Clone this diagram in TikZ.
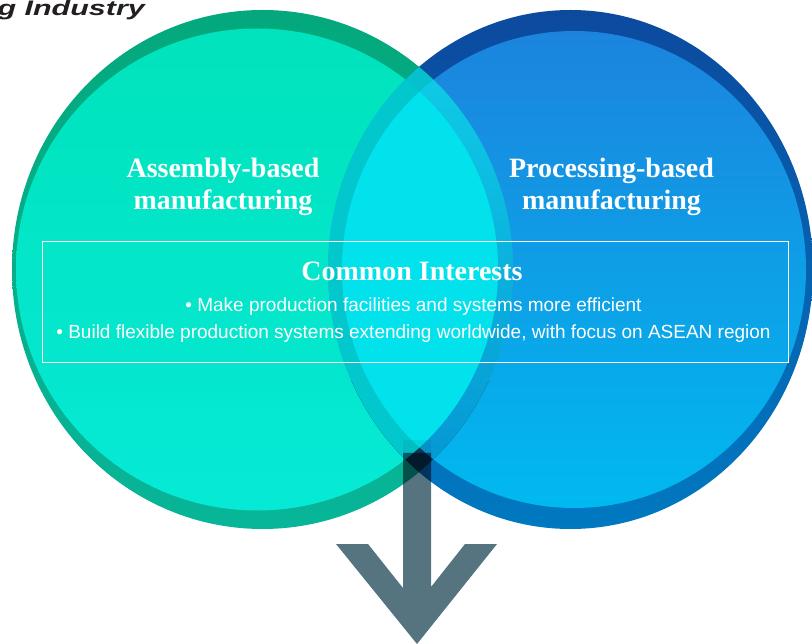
\documentclass[tikz,border=0pt]{standalone}
\usepackage{fontspec}
\setmainfont{Liberation Serif}
\newfontfamily\bodyfont{Liberation Sans}
\newfontfamily\headfont[FakeStretch=1.45]{Liberation Sans}
\definecolor{greendarktop}{HTML}{04A87C}
\definecolor{greendarkbot}{HTML}{07B598}
\definecolor{greenlighttop}{HTML}{00E3BC}
\definecolor{greenlightbot}{HTML}{06E9D6}
\definecolor{bluedarktop}{HTML}{0C4A9E}
\definecolor{bluedarkbot}{HTML}{0079C1}
\definecolor{bluelighttop}{HTML}{1C84DE}
\definecolor{bluelightbot}{HTML}{00B9EF}
\definecolor{lens}{HTML}{02E2EC}
\definecolor{leftband}{HTML}{02C8CE}
\definecolor{rightbandtop}{HTML}{10D0E8}
\definecolor{rightbandbot}{HTML}{0592D2}
\definecolor{topknot}{HTML}{06C0CE}
\definecolor{lowknot}{HTML}{0A3A5A}
\definecolor{arrowgray}{HTML}{557480}
\definecolor{headgray}{HTML}{231F20}
\usetikzlibrary{positioning}

\begin{document}
\begin{tikzpicture}[x=1pt,y=-1pt]
\tikzstyle{gout}=[x radius=250.5pt,y radius=259.5pt]
\tikzstyle{gin}=[x radius=241pt,y radius=241pt]
\tikzstyle{bout}=[x radius=242.5pt,y radius=259.5pt]
\tikzstyle{bin}=[x radius=232pt,y radius=238.5pt]
\tikzstyle{title}=[text=white,font=\bfseries\fontsize{28}{32}\selectfont,anchor=base,inner sep=0pt]
\tikzstyle{bullet}=[text=white,font=\bodyfont\fontsize{19}{23}\selectfont,anchor=base,inner sep=0pt]

\useasboundingbox (0,0) rectangle (812,644);

\coordinate (gdc) at (262.5,269.5);
\coordinate (glc) at (257,269.5);
\coordinate (bdc) at (570.5,269.5);
\coordinate (blc) at (574,269.5);

% the two discs
\shade[top color=greendarktop,bottom color=greendarkbot] (gdc) ellipse [gout];
\shade[top color=bluedarktop,bottom color=bluedarkbot] (bdc) ellipse [bout];
\shade[top color=greenlighttop,bottom color=greenlightbot] (glc) ellipse [gin];
\shade[top color=bluelighttop,bottom color=bluelightbot] (blc) ellipse [bin];

% overlaps
\begin{scope}
\clip (gdc) ellipse [gout];
\fill[topknot] (bdc) ellipse [bout];
\clip (bdc) ellipse [bout];
\fill[lowknot] (300,380) rectangle (540,540);
\end{scope}
\begin{scope}
\clip (gdc) ellipse [gout];
\shade[top color=rightbandtop,bottom color=rightbandbot] (blc) ellipse [bin];
\end{scope}
\begin{scope}
\clip (bdc) ellipse [bout];
\fill[leftband] (glc) ellipse [gin];
\end{scope}
\begin{scope}
\clip (glc) ellipse [gin];
\fill[lens] (blc) ellipse [bin];
\end{scope}

% arrow
\begin{scope}[blend mode=multiply]
\fill[black!6] (403,440) rectangle (431,453);
\fill[arrowgray] (403,453) -- (431,453) -- (431,587) -- (465,544) -- (497,544)
  -- (417,644) -- (336,544) -- (368,544) -- (403,588) -- cycle;
\end{scope}

% texts
\node[anchor=base east,inner sep=0pt,text=headgray,font=\headfont\bfseries\itshape\fontsize{21}{24}\selectfont] (head) at (145,16) {g Industry};

\node[title] (asm1) at (223,178) {Assembly-based};
\node[title] (asm2) at (223,210) {manufacturing};
\node[title] (proc1) at (611.5,178) {Processing-based};
\node[title] (proc2) at (611.5,210) {manufacturing};

\node[draw=white,line width=1pt,minimum width=746pt,minimum height=121pt,inner sep=0pt] (box) at (415,302.5) {};
\node[title] (common) at (412,281) {Common Interests};
\node[bullet] (b1) at (413.5,312) {• Make production facilities and systems more efficient};
\node[bullet] (b2) at (413.5,339) {• Build flexible production systems extending worldwide, with focus on ASEAN region};
\end{tikzpicture}
\end{document}
